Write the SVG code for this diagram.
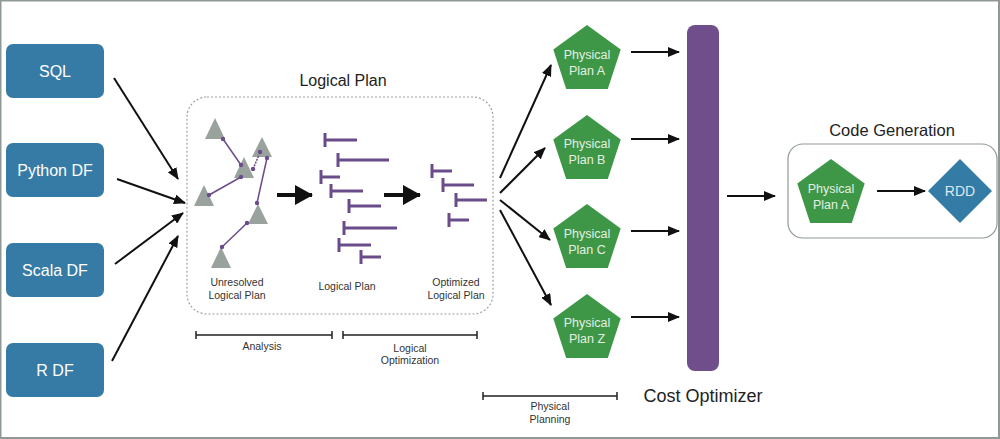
<svg xmlns="http://www.w3.org/2000/svg" width="1000" height="439" viewBox="0 0 1000 439">
<defs>
<style>
text{font-family:"Liberation Sans",Arial,sans-serif}
.inbox{fill:#367ba5}
.intext{fill:#fff;font-size:16px;text-anchor:middle}
.pent{fill:#3d9747}
.ptext{fill:#e4efe4;font-size:12.5px;text-anchor:middle}
.tri{fill:#9aa29e}
.plink{stroke:#6b4c8a;stroke-width:1.5;fill:none}
.dot{fill:#6b4c8a}
.bar{stroke:#6b4c8a;stroke-width:3;fill:none}
.small{fill:#333;font-size:10.5px;text-anchor:middle}
.title{fill:#222;text-anchor:middle}
.arr{stroke:#111;stroke-width:2;fill:none;marker-end:url(#ah)}
.thick{stroke:#111;stroke-width:4;fill:none;marker-end:url(#big)}
.brk{stroke:#222;stroke-width:1.5;fill:none}
</style>
<marker id="ah" markerUnits="userSpaceOnUse" markerWidth="12" markerHeight="10" refX="11" refY="5" orient="auto"><path d="M0,0 L12,5 L0,10 Z" fill="#111"/></marker>
<marker id="big" markerUnits="userSpaceOnUse" markerWidth="18" markerHeight="20" refX="17" refY="10" orient="auto"><path d="M0,0 L18,10 L0,20 Z" fill="#111"/></marker>
</defs>
<rect x="0.5" y="0.5" width="998.5" height="437.5" fill="#fff" stroke="#8f9a96" stroke-width="2"/>

<g id="sql"><rect class="inbox" x="6" y="44" width="98" height="54" rx="7"/><text class="intext" x="55" y="77">SQL</text></g>
<g id="python"><rect class="inbox" x="6" y="143" width="98" height="54" rx="7"/><text class="intext" x="55" y="176">Python DF</text></g>
<g id="scala"><rect class="inbox" x="6" y="243" width="98" height="54" rx="7"/><text class="intext" x="55" y="276">Scala DF</text></g>
<g id="rdf"><rect class="inbox" x="6" y="343" width="98" height="54" rx="7"/><text class="intext" x="55" y="376">R DF</text></g>

<g id="logical-plan">
<text class="title" x="343" y="86" font-size="16">Logical Plan</text>
<rect x="187" y="97" width="306" height="217" rx="20" fill="none" stroke="#9aa29e" stroke-width="1.2" stroke-dasharray="2,2"/>
<g id="unresolved">
<polygon class="tri" points="215,118 205,139 225,139"/>
<polygon class="tri" points="262,137 252,157 272,157"/>
<polygon class="tri" points="244,157 234,178 254,178"/>
<polygon class="tri" points="204,185 194,206 214,206"/>
<polygon class="tri" points="258,204 248,224 268,224"/>
<polygon class="tri" points="221,247 211,268 231,268"/>
<line class="plink" x1="223" y1="139" x2="241" y2="165"/>
<line class="plink" x1="209" y1="195" x2="241" y2="177"/>
<line class="plink" x1="253" y1="169" x2="259" y2="155" stroke-dasharray="2,1"/>
<line class="plink" x1="267" y1="158" x2="257" y2="203"/>
<line class="plink" x1="247" y1="223" x2="222" y2="247"/>
<circle class="dot" cx="223" cy="139" r="2.2"/><circle class="dot" cx="241" cy="165" r="2.2"/>
<circle class="dot" cx="209" cy="195" r="2.2"/><circle class="dot" cx="241" cy="177" r="2.2"/>
<circle class="dot" cx="253" cy="169" r="2.2"/><circle class="dot" cx="260" cy="152" r="2.2"/>
<circle class="dot" cx="267" cy="158" r="2.2"/><circle class="dot" cx="257" cy="203" r="2.2"/>
<circle class="dot" cx="247" cy="223" r="2.2"/><circle class="dot" cx="222" cy="247" r="2.2"/>
<text class="small" x="237" y="286">Unresolved</text>
<text class="small" x="237" y="299">Logical Plan</text>
</g>
<g id="lplan">
<path class="bar" d="M325,133V147M325,140H357M338,153V167M338,160H389M321,170V184M321,177H340M331,184V198M331,191H363M349,199V213M349,206H381M344,221V235M344,228H397M339,238V252M339,245H371M361,250V264M361,257H381"/>
<text class="small" x="347" y="290">Logical Plan</text>
</g>
<g id="oplan">
<path class="bar" d="M432,164V178M432,171H452M443,178V192M443,185H474M456,193V207M456,200H487M449,213V227M449,220H469"/>
<text class="small" x="456" y="286">Optimized</text>
<text class="small" x="456" y="299">Logical Plan</text>
</g>
</g>

<g id="physA"><polygon class="pent" points="587,25 620.7,49.5 607.8,89 566.2,89 553.3,49.5"/><text class="ptext" x="587" y="59">Physical</text><text class="ptext" x="587" y="75">Plan A</text></g>
<g id="physB"><polygon class="pent" points="587,115 620.7,139.5 607.8,179 566.2,179 553.3,139.5"/><text class="ptext" x="587" y="148">Physical</text><text class="ptext" x="587" y="164">Plan B</text></g>
<g id="physC"><polygon class="pent" points="587,204 620.7,228.5 607.8,268 566.2,268 553.3,228.5"/><text class="ptext" x="587" y="238">Physical</text><text class="ptext" x="587" y="254">Plan C</text></g>
<g id="physZ"><polygon class="pent" points="587,294 620.7,318.5 607.8,358 566.2,358 553.3,318.5"/><text class="ptext" x="587" y="327">Physical</text><text class="ptext" x="587" y="343">Plan Z</text></g>

<g id="cost-optimizer"><rect x="687" y="25" width="32" height="346" rx="8" fill="#6f4e8b"/><text class="title" x="703" y="402" font-size="18">Cost Optimizer</text></g>

<g id="code-generation">
<text class="title" x="892" y="136" font-size="16.5">Code Generation</text>
<rect x="788" y="144" width="209" height="94" rx="15" fill="none" stroke="#8f9a96" stroke-width="1.2"/>
<g id="physA2"><polygon class="pent" points="831,159 864.7,183.5 851.8,223 810.2,223 797.3,183.5"/><text class="ptext" x="831" y="193">Physical</text><text class="ptext" x="831" y="209">Plan A</text></g>
<g id="rdd"><polygon points="960,159 992,191 960,223 928,191" fill="#347ca5"/><text fill="#dde8f0" font-size="14" text-anchor="middle" x="960" y="196">RDD</text></g>
</g>

<g id="connectors">
<line class="arr" x1="114" y1="78" x2="178" y2="179"/>
<line class="arr" x1="117" y1="179" x2="185" y2="203"/>
<line class="arr" x1="115" y1="264" x2="183" y2="213"/>
<line class="arr" x1="112" y1="361" x2="178" y2="236"/>
<line class="thick" x1="277" y1="195" x2="312" y2="195"/>
<line class="thick" x1="384" y1="195" x2="420" y2="195"/>
<line class="arr" x1="500" y1="178" x2="551" y2="65"/>
<line class="arr" x1="500" y1="193" x2="545" y2="148"/>
<line class="arr" x1="500" y1="200" x2="550" y2="240"/>
<line class="arr" x1="500" y1="210" x2="551" y2="305"/>
<line class="arr" x1="631" y1="52" x2="679" y2="52"/>
<line class="arr" x1="631" y1="139" x2="679" y2="139"/>
<line class="arr" x1="631" y1="231" x2="679" y2="231"/>
<line class="arr" x1="631" y1="317" x2="679" y2="317"/>
<line class="arr" x1="727" y1="196" x2="775" y2="196"/>
<line class="arr" x1="877" y1="191" x2="925" y2="191"/>
</g>

<g id="phases">
<path class="brk" d="M196,335H332M196,331V339M332,331V339"/>
<text class="small" x="262" y="350">Analysis</text>
<path class="brk" d="M343,335H477M343,331V339M477,331V339"/>
<text class="small" x="410" y="352">Logical</text>
<text class="small" x="410" y="364">Optimization</text>
<path class="brk" d="M483,396H617M483,392V400M617,392V400"/>
<text class="small" x="550" y="410">Physical</text>
<text class="small" x="550" y="423">Planning</text>
</g>
</svg>
